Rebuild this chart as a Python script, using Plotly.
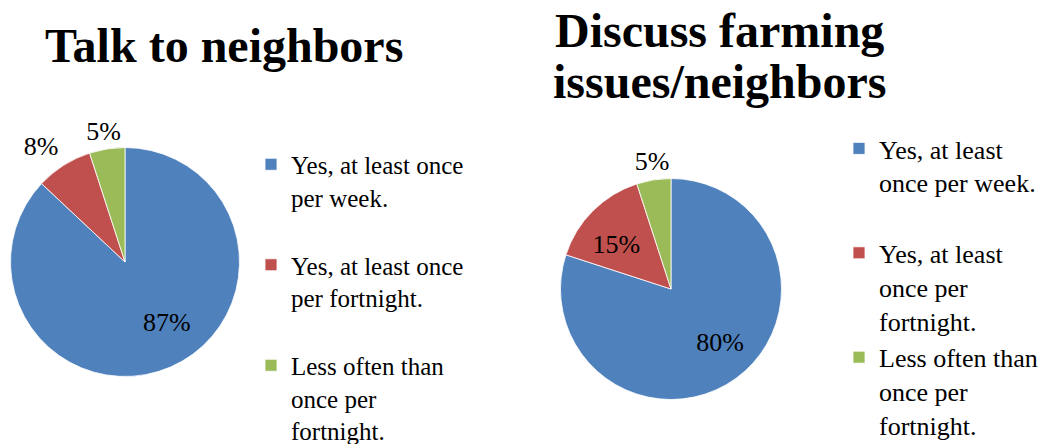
import plotly.graph_objects as go

# Data
categories = ["Yes, at least once per week.", "Yes, at least once per fortnight.", "Less often than once per fortnight."]
left_values = [87, 8, 5]
right_values = [80, 15, 5]
left_labels = ["Yes, at least once<br>per week.<br>\u00a0",
               "Yes, at least once<br>per fortnight.<br>\u00a0",
               "Less often than<br>once per<br>fortnight."]
right_labels = ["Yes, at least<br>once per week.<br>\u00a0",
                "Yes, at least<br>once per<br>fortnight.",
                "Less often than<br>once per<br>fortnight.\u200b"]
left_title = "Talk to neighbors"
right_title_lines = ["Discuss farming", "issues/neighbors"]

colors = ["#4F81BD", "#C0504D", "#9BBB59"]
FONT = "Liberation Serif"
# the page body adds an 8px margin, so the figure is laid out in page px minus 8
W, H = 1039, 444

# pie boxes in figure px (x0, x1, y0, y1)
left_box = (2.5, 231.5, 139.5, 368.5)
right_box = (552.5, 773.5, 170.5, 391.5)
# per-label nudges (dx, dy) in px, and where plotly should put each label
left_text_pos = ["inside", "outside", "outside"]
left_nudge = [(19, 8), (2, -8), (21, -3)]
right_text_pos = ["inside", "inside", "outside"]
right_nudge = [(16.5, 9), (-1, 9), (23, -4)]


def px_domain(box, dx=0, dy=0):
    x0, x1, y0, y1 = box
    return dict(x=[(x0 + dx) / W, (x1 + dx) / W], y=[1 - (y1 + dy) / H, 1 - (y0 + dy) / H])


label_font = dict(family=FONT, size=26, color="black")
clear = ["rgba(0,0,0,0)"] * 3

fig = go.Figure()


def add_pie(labels, values, box, text_pos, nudges, legend_name):
    # the visible slices
    fig.add_trace(go.Pie(
        labels=labels, values=values, sort=False, direction="clockwise", rotation=0,
        marker=dict(colors=colors, line=dict(color="white", width=0.8)),
        textinfo="none", domain=px_domain(box),
        legend=legend_name, showlegend=True, hoverinfo="label+percent",
    ))
    # one transparent label layer per slice, so labels are placed independently
    for i, (pos, (dx, dy)) in enumerate(zip(text_pos, nudges)):
        tp = ["none"] * len(values)
        tp[i] = pos
        fig.add_trace(go.Pie(
            labels=labels, values=values, sort=False, direction="clockwise", rotation=0,
            marker=dict(colors=clear, line=dict(width=0)),
            texttemplate="%{value}%", textinfo="text",
            textposition=tp, insidetextorientation="horizontal",
            textfont=label_font, domain=px_domain(box, dx, dy),
            showlegend=False, hoverinfo="skip",
        ))


add_pie(left_labels, left_values, left_box, left_text_pos, left_nudge, "legend")
add_pie(right_labels, right_values, right_box, right_text_pos, right_nudge, "legend2")

legend_common = dict(bgcolor="rgba(0,0,0,0)", xanchor="left", yanchor="top", valign="top",
                     itemwidth=30, traceorder="normal", itemclick=False, itemdoubleclick=False)

title_font = dict(family=FONT, size=48, color="black", weight="bold")

fig.update_layout(
    width=W, height=H,
    margin=dict(l=0, r=0, t=0, b=0, autoexpand=False),
    paper_bgcolor="white", plot_bgcolor="white",
    legend=dict(x=243 / W, y=1 - 133.5 / H, font=dict(family=FONT, size=25, color="black"), **legend_common),
    legend2=dict(x=831 / W, y=1 - 117 / H, font=dict(family=FONT, size=26, color="black"), **legend_common),
    annotations=[
        dict(text=left_title, x=216 / W, y=1 - 37 / H, xref="paper", yref="paper",
             xanchor="center", yanchor="middle", showarrow=False, font=title_font),
        dict(text=right_title_lines[0], x=711 / W, y=1 - 22 / H, xref="paper", yref="paper",
             xanchor="center", yanchor="middle", showarrow=False, font=title_font),
        dict(text=right_title_lines[1], x=711 / W, y=1 - 74 / H, xref="paper", yref="paper",
             xanchor="center", yanchor="middle", showarrow=False, font=title_font),
    ],
)

fig.write_html("out.html")
